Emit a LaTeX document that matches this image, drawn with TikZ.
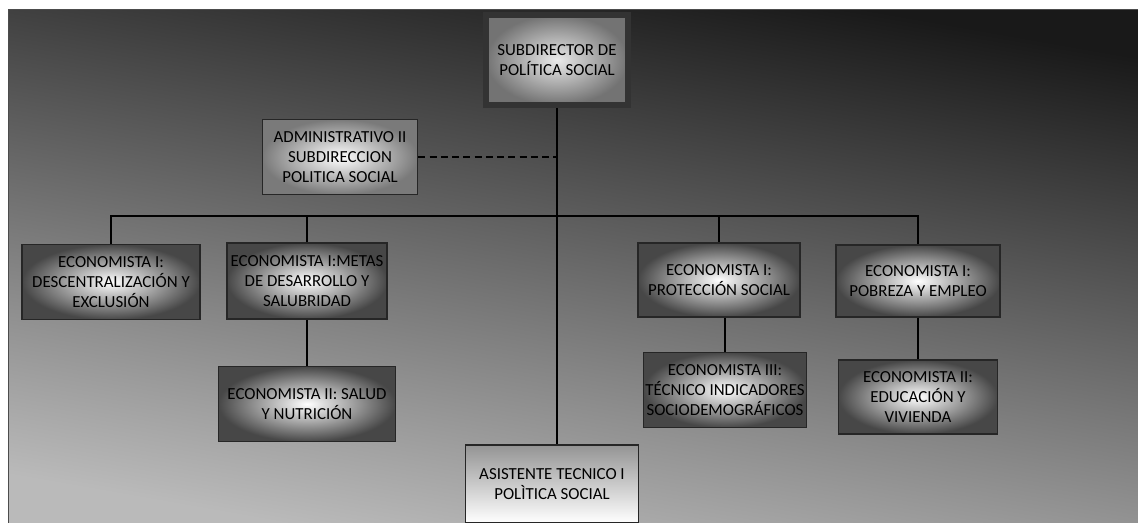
\documentclass[tikz,border=0pt]{standalone}
\usepackage{fontspec}
\setmainfont{Carlito}
\usetikzlibrary{calc, arrows.meta}

\begin{document}
\begin{tikzpicture}[x=0.025cm, y=-0.025cm, font=\fontsize{12}{14.2}\selectfont,
  chartbox/.style={draw=black!85, line width=1.2pt, align=center, inner sep=0pt, text=black},
  ecobox/.style 2 args={chartbox, inner color=white, outer color=black!72, minimum width=#1cm, minimum height=#2cm},
  topbox/.style={chartbox, draw=black!80, line width=4pt, inner color=white!92!black, outer color=black!55, minimum width=3.55cm, minimum height=2.25cm},
  adminbox/.style={chartbox, inner color=white, outer color=black!52, minimum width=3.875cm, minimum height=1.875cm},
  asistbox/.style={chartbox, top color=black!42, bottom color=white, minimum width=4.325cm, minimum height=1.95cm},
  link/.style={draw=black, line width=0.9pt}]
  \useasboundingbox (0,0) rectangle (1138,522);
  \fill[white] (0,0) rectangle (1138,522);
  \fill[top color=black!90, middle color=black!50, bottom color=black!27, shading angle=-10, draw=black!70] (8,9) rectangle (1142,526);

  \node[topbox] (sub) at (557,60) {SUBDIRECTOR DE\\POLÍTICA SOCIAL};
  \node[adminbox] (admin) at (340,157) {ADMINISTRATIVO II\\SUBDIRECCION\\POLITICA SOCIAL};
  \node[ecobox={4.45}{1.875}] (desc) at (111,282) {ECONOMISTA I:\\DESCENTRALIZACIÓN Y\\EXCLUSIÓN};
  \node[ecobox={4.0}{1.9}] (metas) at (307,281) {ECONOMISTA I:METAS\\DE DESARROLLO Y\\SALUBRIDAD};
  \node[ecobox={4.05}{1.85}] (proteccion) at (719,280) {ECONOMISTA I:\\PROTECCIÓN SOCIAL};
  \node[ecobox={4.1}{1.8}] (pobreza) at (918,281) {ECONOMISTA I:\\POBREZA Y EMPLEO};
  \node[ecobox={4.425}{1.875}] (salud) at (307,404) {ECONOMISTA II: SALUD\\Y NUTRICIÓN};
  \node[ecobox={4.075}{1.875}] (indicadores) at (725,390) {ECONOMISTA III:\\TÉCNICO INDICADORES\\SOCIODEMOGRÁFICOS};
  \node[ecobox={3.975}{1.85}] (vivienda) at (918,397) {ECONOMISTA II:\\EDUCACIÓN Y\\VIVIENDA};
  \node[asistbox] (asist) at (552,484) {ASISTENTE TECNICO I\\POLÌTICA SOCIAL};

  \coordinate (bus) at (557,216);
  \draw[link] (sub.south) -- (sub.south |- asist.north);
  \draw[link] (desc.north) |- (bus) -| (pobreza.north);
  \draw[link] (metas.north) -- (metas.north |- bus);
  \draw[link] (proteccion.north) -- (proteccion.north |- bus);
  \draw[link] (metas.south) -- (salud.north);
  \draw[link] (indicadores.north) -- (indicadores.north |- proteccion.south);
  \draw[link] (pobreza.south) -- (vivienda.north);
  \draw[link, dash pattern=on 5pt off 3pt] (admin.east) -- (admin.east -| sub.south);
\end{tikzpicture}
\end{document}
